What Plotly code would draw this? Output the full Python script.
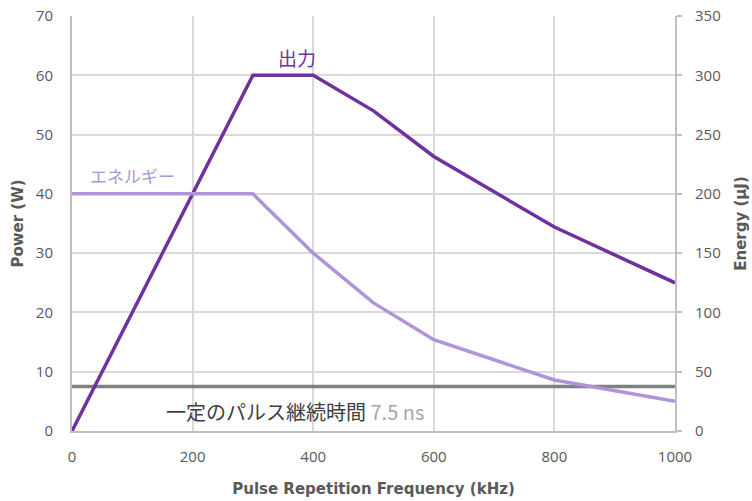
import plotly.graph_objects as go

freq = [0, 300, 400, 500, 600, 800, 1000]
power_w = [0, 60, 60, 54, 46.3, 34.4, 25]
energy_uj = [200, 200, 150, 108, 77, 43, 25]
pulse_freq = [0, 1000]
pulse_level = [7.5, 7.5]

FONT = "Open Sans"
TFONT = "DejaVu Sans"
DARK = "#7030A0"
LIGHT = "#B193D8"
TXT = "#595959"

fig = go.Figure()
fig.add_trace(go.Scatter(x=pulse_freq, y=pulse_level, mode="lines",
                         line=dict(color="#808080", width=3.5), yaxis="y", hoverinfo="skip"))
fig.add_trace(go.Scatter(x=freq, y=energy_uj, mode="lines",
                         line=dict(color=LIGHT, width=3.5), yaxis="y2"))
fig.add_trace(go.Scatter(x=freq, y=power_w, mode="lines",
                         line=dict(color=DARK, width=3.5), yaxis="y"))

fig.update_layout(
    width=752, height=501,
    margin=dict(l=72, r=77, t=16, b=70),
    paper_bgcolor="white", plot_bgcolor="white",
    showlegend=False,
    font=dict(family=FONT, color=TXT, size=14),
    xaxis=dict(range=[0, 1000], tickvals=[0, 200, 400, 600, 800, 1000],
               automargin=False,
               showgrid=True, gridcolor="#D9D9D9", gridwidth=2,
               showline=True, linecolor="#BFBFBF", linewidth=2,
               zeroline=False, ticks="", ticklabelstandoff=11,
               tickfont=dict(size=15, color=TXT),
               title=dict(text="<b>Pulse Repetition Frequency (kHz)</b>",
                          font=dict(family=TFONT, size=15, color=TXT), standoff=18)),
    yaxis=dict(range=[0, 70], tickvals=list(range(0, 71, 10)),
               automargin=False,
               showgrid=True, gridcolor="#D9D9D9", gridwidth=2,
               showline=True, linecolor="#BFBFBF", linewidth=2,
               zeroline=False, ticks="", ticklabelstandoff=14,
               tickfont=dict(size=15, color=TXT),
               title=dict(text="<b>Power (W)</b>", font=dict(family=TFONT, size=15, color=TXT), standoff=9)),
    yaxis2=dict(range=[0, 350], tickvals=list(range(0, 351, 50)),
                automargin=False,
                overlaying="y", side="right", showgrid=False,
                showline=True, linecolor="#BFBFBF", linewidth=2,
                zeroline=False, ticks="outside", ticklen=5, tickcolor="#BFBFBF", tickwidth=2,
                ticklabelstandoff=10,
                tickfont=dict(size=15, color=TXT),
                title=dict(text="<b>Energy (μJ)</b>", font=dict(family=TFONT, size=15, color=TXT), standoff=16)),
    annotations=[
        dict(x=373, y=60, xref="x", yref="y", text="出力", showarrow=False,
             yanchor="bottom", yshift=2,
             font=dict(family="Noto Sans CJK JP", size=19, color=DARK)),
        dict(x=101, y=40, xref="x", yref="y", text="エネルギー", showarrow=False,
             yanchor="bottom", yshift=4,
             font=dict(family="Noto Sans CJK JP", size=17, color=LIGHT)),
        dict(x=370, y=7.5, xref="x", yref="y",
             text="<span style='color:#404040'>一定のパルス継続時間</span> <span style='color:#A6A6A6'>7.5 ns</span>",
             showarrow=False, yanchor="top", yshift=-8,
             font=dict(family="Noto Sans CJK JP", size=20)),
    ],
)

fig.write_html("out.html", config={"displayModeBar": False},
               post_script="document.body.style.margin='0';")
